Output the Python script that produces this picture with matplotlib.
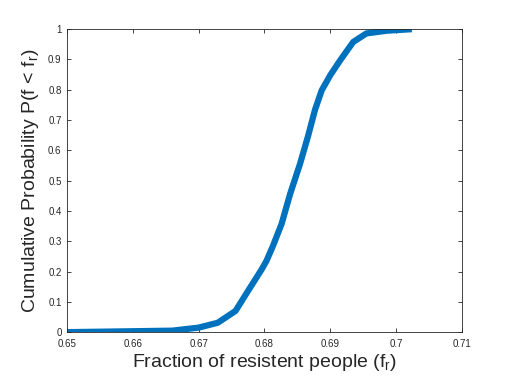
import matplotlib
matplotlib.use("Agg")
import matplotlib.pyplot as plt
import numpy as np

# values
frac = [0.650, 0.660, 0.666, 0.670, 0.6729, 0.6756, 0.6775, 0.6796, 0.6803,
        0.6813, 0.6826, 0.6839, 0.6854, 0.6866, 0.6877, 0.6887, 0.6900,
        0.6915, 0.6935, 0.6955, 0.6986, 0.7024]
cdf = [0.000, 0.003, 0.005, 0.015, 0.031, 0.070, 0.136, 0.208, 0.235,
       0.285, 0.357, 0.456, 0.555, 0.645, 0.735, 0.798, 0.848,
       0.897, 0.958, 0.986, 0.995, 1.000]

xticks = [0.65, 0.66, 0.67, 0.68, 0.69, 0.70, 0.71]
xtick_labels = ['0.65', '0.66', '0.67', '0.68', '0.69', '0.7', '0.71']
yticks = [0, 0.1, 0.2, 0.3, 0.4, 0.5, 0.6, 0.7, 0.8, 0.9, 1]
ytick_labels = ['0', '0.1', '0.2', '0.3', '0.4', '0.5', '0.6', '0.7', '0.8', '0.9', '1']

plt.rcParams['font.family'] = ['Liberation Sans', 'DejaVu Sans']
plt.rcParams['mathtext.default'] = 'regular'

fig = plt.figure(figsize=(5.12, 3.84), dpi=100)
ax = fig.add_axes([0.131, 0.135, 0.771, 0.789])

ax.plot(frac, cdf, color='#0072BD', lw=4.5, solid_capstyle='butt')

ax.set_xlim(0.65, 0.71)
ax.set_ylim(0, 1)
ax.set_xticks(xticks)
ax.set_xticklabels(xtick_labels)
ax.set_yticks(yticks)
ax.set_yticklabels(ytick_labels)
ax.tick_params(direction='in', length=3, width=0.6, top=True, right=True,
               labelsize=7, colors='#262626')
ax.tick_params(axis='x', pad=5)
ax.tick_params(axis='y', pad=4)
for s in ax.spines.values():
    s.set_linewidth(0.6)
    s.set_color('#262626')

ax.set_xlabel('Fraction of resistent people (f$_r$)', fontsize=14, color='#262626', labelpad=2)
ax.set_ylabel('Cumulative Probability P(f < f$_r$)', fontsize=14, color='#262626', labelpad=5)

fig.savefig('out.png', dpi=100)
